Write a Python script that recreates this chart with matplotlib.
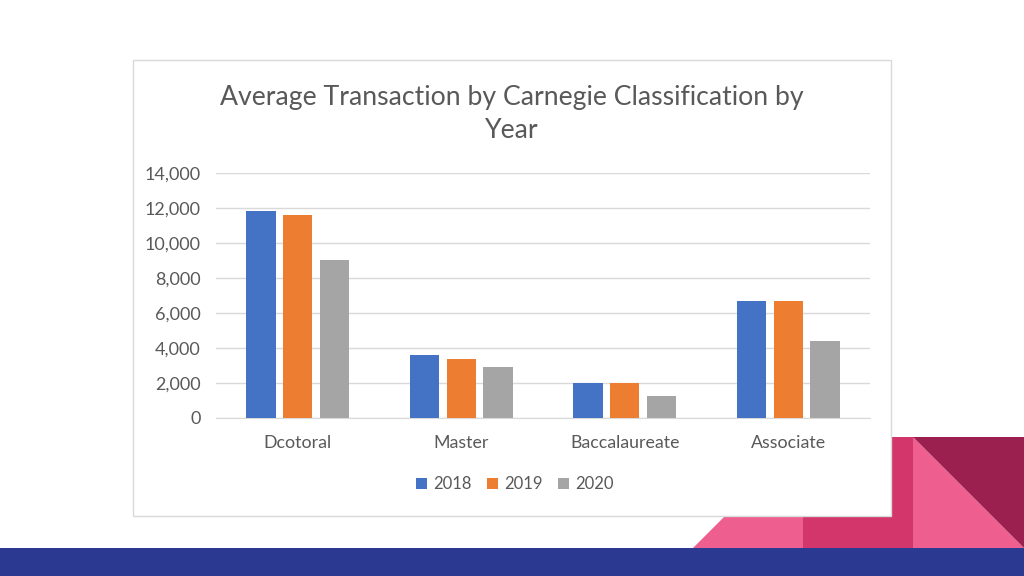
import numpy as np
import matplotlib
matplotlib.use("Agg")
import matplotlib.pyplot as plt
from matplotlib.patches import Rectangle, Polygon, Patch

categories = ["Dcotoral", "Master", "Baccalaureate", "Associate"]
years = ["2018", "2019", "2020"]
values_2018 = [11850, 3600, 2000, 6700]
values_2019 = [11600, 3350, 2000, 6700]
values_2020 = [9030, 2900, 1250, 4400]
yticks = [0, 2000, 4000, 6000, 8000, 10000, 12000, 14000]

colors = ["#4472C4", "#ED7D31", "#A5A5A5"]
text_col = "#595959"
W, H = 1024, 576

plt.rcParams["font.family"] = ["Lato", "DejaVu Sans"]


def px(x, y):
    # pixel (top-left origin) to figure fraction
    return x / W, 1 - y / H


fig = plt.figure(figsize=(W / 100, H / 100), dpi=100)
fig.patch.set_facecolor("white")

# slide decoration
shapes = [
    ([(693, 548), (804, 437), (804, 548)], "#EE5F8F"),
    ([(803, 437), (914, 437), (914, 548), (803, 548)], "#D2366A"),
    ([(913, 437), (1024, 548), (913, 548)], "#EE5F8F"),
    ([(913, 437), (1024, 437), (1024, 548)], "#9B2050"),
    ([(0, 548), (1024, 548), (1024, 576), (0, 576)], "#2B3990"),
]
for pts, c in shapes:
    fig.patches.append(Polygon([px(*p) for p in pts], closed=True, facecolor=c,
                               edgecolor="none", transform=fig.transFigure, zorder=0))

# chart box
x0, y0 = px(133, 516)
fig.patches.append(Rectangle((x0, y0), (891 - 133) / W, (516 - 60) / H,
                             facecolor="white", edgecolor="#D9D9D9", lw=1,
                             transform=fig.transFigure, zorder=1))

ax = fig.add_axes([216 / W, 1 - 418 / H, 654 / W, 245 / H], zorder=2)
ax.set_facecolor("none")

x = np.arange(len(categories))
width = 0.18
step = 0.225
for i, (vals, c) in enumerate(zip([values_2018, values_2019, values_2020], colors)):
    ax.bar(x + (i - 1) * step, vals, width, color=c, zorder=3, label=years[i])

ax.set_xlim(-0.5, len(categories) - 0.5)
ax.set_ylim(0, 14000)
ax.set_yticks(yticks)
ax.set_yticklabels([f"{v:,}" for v in yticks])
ax.set_xticks(x)
ax.set_xticklabels(categories)
ax.grid(axis="y", color="#D9D9D9", lw=1, zorder=0)
for s in ["top", "right", "left"]:
    ax.spines[s].set_visible(False)
ax.spines["bottom"].set_color("#D9D9D9")
ax.tick_params(length=0, colors=text_col)
ax.tick_params(axis="y", pad=11, labelsize=13)
ax.tick_params(axis="x", pad=12, labelsize=12.8)

fig.text(512 / W, 1 - 97 / H, "Average Transaction by Carnegie Classification by",
         ha="center", va="center", fontsize=19.2, color=text_col, zorder=3)
fig.text(512 / W, 1 - 130 / H, "Year", ha="center", va="center",
         fontsize=19.2, color=text_col, zorder=3)

handles = [Patch(facecolor=c, label=y) for c, y in zip(colors, years)]
leg = fig.legend(handles=handles, loc="center", bbox_to_anchor=px(515, 484),
                 ncol=3, frameon=False, fontsize=12, handlelength=0.65,
                 handleheight=0.65, handletextpad=0.4, columnspacing=0.9)
for t in leg.get_texts():
    t.set_color(text_col)
leg.set_zorder(3)

fig.savefig("out.png", dpi=100)
